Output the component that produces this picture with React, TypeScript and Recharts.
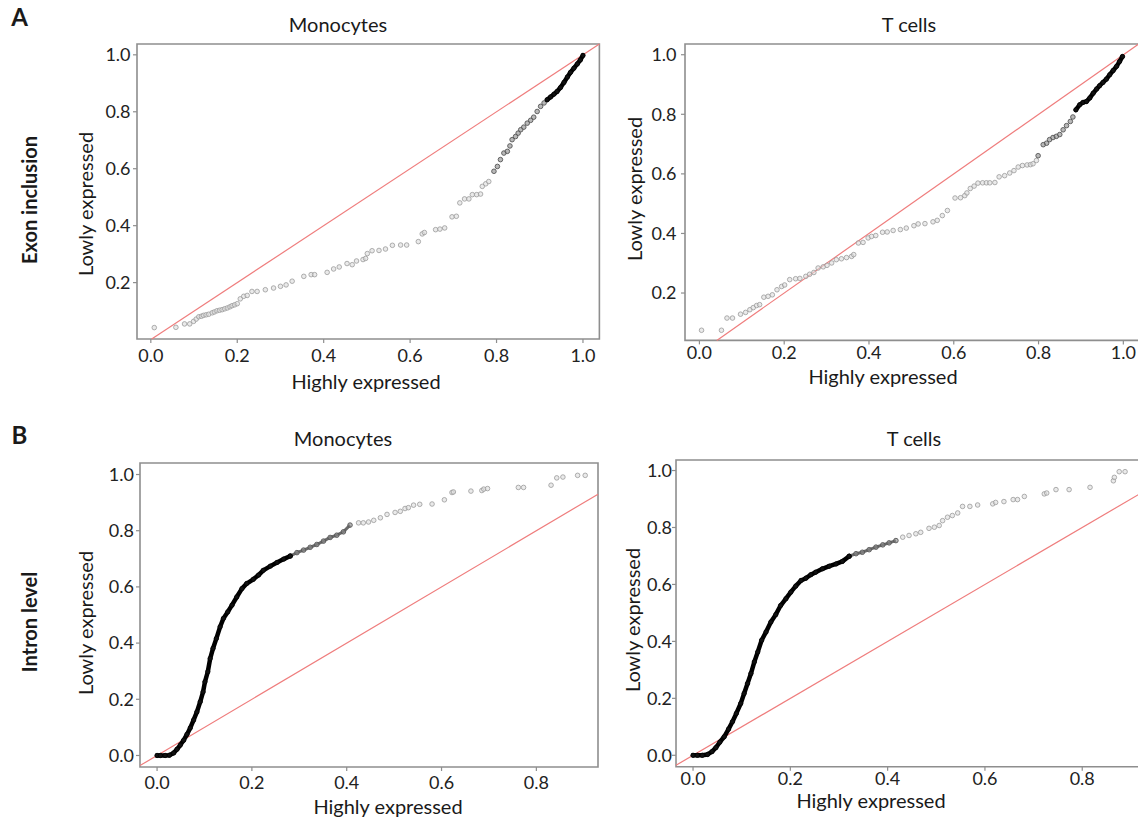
import React from 'react';
import {
  ScatterChart,
  Scatter,
  XAxis,
  YAxis,
  ReferenceLine,
  ReferenceArea,
} from 'recharts';

type Pt = [number, number];

const FONT = 'Lato, "Open Sans", "DejaVu Sans", sans-serif';
const FRAME = '#8e8e8e';
const DIAG = '#ef7d7d';

// ---------- Exon inclusion, Monocytes (highly vs lowly expressed quantiles) ----------
const monoExonSparse: Pt[] = [
  [0.008, 0.042], [0.058, 0.043], [0.078, 0.055], [0.09, 0.055], [0.099, 0.064],
  [0.105, 0.072], [0.111, 0.08], [0.117, 0.082], [0.122, 0.085], [0.128, 0.087],
  [0.134, 0.089], [0.142, 0.094], [0.147, 0.097], [0.153, 0.101], [0.159, 0.103],
  [0.165, 0.105], [0.171, 0.108], [0.177, 0.111], [0.183, 0.115], [0.188, 0.119],
  [0.194, 0.122], [0.2, 0.126], [0.207, 0.143], [0.215, 0.152], [0.223, 0.155],
  [0.234, 0.169], [0.246, 0.169], [0.265, 0.175], [0.284, 0.181], [0.3, 0.187],
  [0.313, 0.192], [0.327, 0.205], [0.354, 0.222], [0.371, 0.228], [0.379, 0.228],
  [0.408, 0.236], [0.423, 0.248], [0.436, 0.255], [0.454, 0.267], [0.466, 0.263],
  [0.476, 0.276], [0.491, 0.281], [0.497, 0.285], [0.501, 0.302], [0.512, 0.312],
  [0.528, 0.313], [0.543, 0.318], [0.559, 0.331], [0.578, 0.332], [0.592, 0.332],
  [0.619, 0.344], [0.628, 0.371], [0.633, 0.376], [0.659, 0.386], [0.669, 0.388],
  [0.68, 0.392], [0.697, 0.431], [0.707, 0.433], [0.715, 0.48], [0.726, 0.494],
  [0.736, 0.494], [0.744, 0.509], [0.754, 0.509], [0.763, 0.511], [0.767, 0.538],
  [0.775, 0.547], [0.782, 0.555],
];
const monoExonMid: Pt[] = [
  [0.794, 0.591], [0.802, 0.608], [0.809, 0.632], [0.817, 0.655], [0.825, 0.661],
  [0.831, 0.68], [0.836, 0.702], [0.844, 0.713], [0.85, 0.725], [0.856, 0.737],
  [0.863, 0.746], [0.871, 0.76], [0.879, 0.77], [0.886, 0.781], [0.894, 0.801],
  [0.902, 0.819], [0.91, 0.831],
];
const monoExonDense: Pt[] = [
  [0.917, 0.842], [0.925, 0.852], [0.933, 0.862], [0.94, 0.871], [0.948, 0.885],
  [0.956, 0.903], [0.964, 0.922], [0.971, 0.938], [0.979, 0.953], [0.987, 0.968],
  [0.994, 0.982], [1.0, 0.998],
];

// ---------- Exon inclusion, T cells ----------
const tcellExonSparse: Pt[] = [
  [0.005, 0.075], [0.052, 0.075], [0.065, 0.116], [0.078, 0.116], [0.097, 0.129],
  [0.109, 0.135], [0.119, 0.144], [0.127, 0.151], [0.135, 0.158], [0.142, 0.161],
  [0.152, 0.186], [0.162, 0.189], [0.172, 0.194], [0.183, 0.211], [0.194, 0.222],
  [0.201, 0.227], [0.213, 0.245], [0.227, 0.248], [0.237, 0.249], [0.251, 0.256],
  [0.26, 0.263], [0.27, 0.269], [0.28, 0.284], [0.292, 0.288], [0.301, 0.293],
  [0.312, 0.301], [0.323, 0.312], [0.335, 0.315], [0.347, 0.319], [0.359, 0.323],
  [0.364, 0.329], [0.375, 0.368], [0.386, 0.37], [0.398, 0.385], [0.406, 0.39],
  [0.416, 0.393], [0.432, 0.404], [0.443, 0.405], [0.457, 0.41], [0.474, 0.413],
  [0.488, 0.418], [0.506, 0.426], [0.516, 0.432], [0.532, 0.433], [0.551, 0.439],
  [0.561, 0.444], [0.573, 0.46], [0.585, 0.477], [0.603, 0.519], [0.616, 0.52],
  [0.626, 0.527], [0.631, 0.536], [0.639, 0.551], [0.648, 0.559], [0.657, 0.569],
  [0.668, 0.57], [0.677, 0.57], [0.685, 0.57], [0.697, 0.571], [0.707, 0.59],
  [0.72, 0.594], [0.732, 0.603], [0.742, 0.611], [0.752, 0.623], [0.762, 0.628],
  [0.773, 0.63], [0.781, 0.631], [0.787, 0.634], [0.795, 0.645],
];
const tcellExonMid: Pt[] = [
  [0.799, 0.661], [0.811, 0.698], [0.819, 0.703], [0.826, 0.715], [0.834, 0.722],
  [0.842, 0.726], [0.85, 0.732], [0.858, 0.748], [0.866, 0.762], [0.875, 0.776],
  [0.881, 0.791],
];
const tcellExonDense: Pt[] = [
  [0.888, 0.815], [0.897, 0.832], [0.905, 0.84], [0.913, 0.843], [0.921, 0.855],
  [0.929, 0.871], [0.937, 0.885], [0.944, 0.896], [0.952, 0.907], [0.96, 0.918],
  [0.968, 0.933], [0.976, 0.947], [0.984, 0.961], [0.991, 0.977], [0.998, 0.994],
];

// ---------- Intron level, Monocytes ----------
const monoIntronDense: Pt[] = [
  [0.0, 0.0], [0.007, 0.0], [0.017, 0.0], [0.026, 0.001], [0.035, 0.009],
  [0.042, 0.022], [0.049, 0.037], [0.056, 0.054], [0.063, 0.075], [0.07, 0.098],
  [0.077, 0.126], [0.084, 0.155], [0.091, 0.191], [0.097, 0.226], [0.101, 0.262],
  [0.107, 0.298], [0.112, 0.345], [0.118, 0.381], [0.125, 0.416], [0.133, 0.458],
  [0.14, 0.488], [0.149, 0.511], [0.158, 0.535], [0.168, 0.564], [0.179, 0.594],
  [0.189, 0.612], [0.203, 0.627], [0.214, 0.642], [0.224, 0.659], [0.239, 0.674],
  [0.253, 0.687], [0.267, 0.699], [0.281, 0.71],
];
const monoIntronMid: Pt[] = [
  [0.281, 0.71], [0.295, 0.722], [0.309, 0.731], [0.323, 0.741], [0.337, 0.751],
  [0.351, 0.763], [0.365, 0.776], [0.379, 0.784], [0.393, 0.796], [0.407, 0.82],
];
const monoIntronSparse: Pt[] = [
  [0.425, 0.828], [0.435, 0.828], [0.446, 0.831], [0.457, 0.837], [0.471, 0.846],
  [0.485, 0.858], [0.502, 0.865], [0.513, 0.869], [0.523, 0.879], [0.53, 0.882],
  [0.541, 0.891], [0.554, 0.894], [0.58, 0.895], [0.606, 0.91], [0.622, 0.936],
  [0.625, 0.938], [0.662, 0.941], [0.685, 0.943], [0.689, 0.948], [0.697, 0.95],
  [0.762, 0.954], [0.773, 0.954], [0.831, 0.962], [0.843, 0.988], [0.856, 0.991],
  [0.887, 0.997], [0.903, 0.997],
];

// ---------- Intron level, T cells ----------
const tcellIntronDense: Pt[] = [
  [0.0, 0.0], [0.009, 0.0], [0.019, 0.0], [0.03, 0.003], [0.039, 0.013],
  [0.047, 0.027], [0.055, 0.046], [0.064, 0.065], [0.073, 0.092], [0.081, 0.118],
  [0.089, 0.147], [0.098, 0.182], [0.105, 0.217], [0.112, 0.252], [0.119, 0.287],
  [0.126, 0.328], [0.133, 0.363], [0.141, 0.404], [0.15, 0.433], [0.16, 0.468],
  [0.17, 0.494], [0.18, 0.526], [0.191, 0.55], [0.201, 0.573], [0.211, 0.594],
  [0.222, 0.614], [0.232, 0.622], [0.242, 0.634], [0.252, 0.643], [0.266, 0.655],
  [0.28, 0.664], [0.294, 0.672], [0.307, 0.681], [0.321, 0.699],
];
const tcellIntronMid: Pt[] = [
  [0.321, 0.699], [0.335, 0.708], [0.348, 0.713], [0.362, 0.722], [0.376, 0.731],
  [0.39, 0.739], [0.403, 0.746], [0.417, 0.754],
];
const tcellIntronSparse: Pt[] = [
  [0.431, 0.766], [0.444, 0.772], [0.458, 0.778], [0.468, 0.783], [0.485, 0.797],
  [0.496, 0.801], [0.506, 0.807], [0.513, 0.824], [0.523, 0.836], [0.533, 0.842],
  [0.544, 0.851], [0.554, 0.874], [0.569, 0.874], [0.585, 0.879], [0.616, 0.883],
  [0.622, 0.888], [0.639, 0.891], [0.658, 0.898], [0.667, 0.898], [0.681, 0.909],
  [0.722, 0.918], [0.727, 0.921], [0.746, 0.933], [0.773, 0.933], [0.816, 0.941],
  [0.864, 0.964], [0.866, 0.976], [0.876, 0.996], [0.888, 0.996],
];

// ---------- axis ticks ----------
const exonXTicks = [0, 0.2, 0.4, 0.6, 0.8, 1.0];
const exonYTicks = [0.2, 0.4, 0.6, 0.8, 1.0];
const intronXTicks = [0, 0.2, 0.4, 0.6, 0.8];
const intronYTicks = [0, 0.2, 0.4, 0.6, 0.8, 1.0];

const toXY = (pts: Pt[]) => pts.map(([x, y]) => ({ x, y }));
const fmt = (v: number) => v.toFixed(1);

interface PanelSpec {
  left: number;
  top: number;
  plotW: number;
  plotH: number;
  xDomain: [number, number];
  yDomain: [number, number];
  xTicks: number[];
  yTicks: number[];
  xTickMargin: number;
  yTickMargin: number;
  sparse: Pt[];
  mid: Pt[];
  dense: Pt[];
  midLine: boolean;
}

const Y_W = 60;
const X_H = 45;
const PAD = 6;

const sparseDot = (p: any) => (
  <circle cx={p.cx} cy={p.cy} r={2.3} fill="#dcdcdc" fillOpacity={0.6} stroke="#9a9a9a" strokeWidth={0.8} />
);
const midDot = (p: any) => (
  <circle cx={p.cx} cy={p.cy} r={2.3} fill="#8a8a8a" fillOpacity={0.6} stroke="#555" strokeWidth={0.9} />
);
const denseDot = (p: any) => (
  <circle cx={p.cx} cy={p.cy} r={2.2} fill="#111" stroke="#000" strokeWidth={0.8} />
);

function Panel({ spec }: { spec: PanelSpec }) {
  const w = Y_W + spec.plotW + PAD;
  const h = PAD + spec.plotH + X_H;
  const lo = Math.max(spec.xDomain[0], spec.yDomain[0]);
  const hi = Math.min(spec.xDomain[1], spec.yDomain[1]);
  const tickStyle = { fontSize: 18, fill: '#222', fontFamily: FONT };
  return (
    <div style={{ position: 'absolute', left: spec.left - Y_W, top: spec.top - PAD, width: w, height: h }}>
      <ScatterChart width={w} height={h} margin={{ top: PAD, right: PAD, bottom: 0, left: 0 }}>
        <XAxis
          type="number"
          dataKey="x"
          domain={spec.xDomain}
          ticks={spec.xTicks}
          interval={0}
          allowDataOverflow
          height={X_H}
          axisLine={false}
          tickLine={{ stroke: FRAME, strokeWidth: 1.2 }}
          tickSize={4}
          tickMargin={spec.xTickMargin}
          tick={tickStyle}
          tickFormatter={fmt}
        />
        <YAxis
          type="number"
          dataKey="y"
          domain={spec.yDomain}
          ticks={spec.yTicks}
          interval={0}
          allowDataOverflow
          width={Y_W}
          axisLine={false}
          tickLine={{ stroke: FRAME, strokeWidth: 1.2 }}
          tickSize={4}
          tickMargin={spec.yTickMargin}
          tick={tickStyle}
          tickFormatter={fmt}
        />
        <ReferenceArea
          x1={spec.xDomain[0]}
          x2={spec.xDomain[1]}
          y1={spec.yDomain[0]}
          y2={spec.yDomain[1]}
          fill="none"
          stroke={FRAME}
          strokeWidth={1.6}
          ifOverflow="visible"
        />
        <Scatter data={toXY(spec.sparse)} shape={sparseDot} isAnimationActive={false} />
        <Scatter
          data={toXY(spec.mid)}
          shape={midDot}
          line={spec.midLine ? { stroke: '#6a6a6a', strokeWidth: 3 } : false}
          isAnimationActive={false}
        />
        <Scatter
          data={toXY(spec.dense)}
          shape={denseDot}
          line={{ stroke: '#000', strokeWidth: 4.5, strokeLinejoin: 'round', strokeLinecap: 'round' }}
          isAnimationActive={false}
        />
        <ReferenceLine
          segment={[{ x: lo, y: lo }, { x: hi, y: hi }]}
          stroke={DIAG}
          strokeWidth={1.2}
          ifOverflow="visible"
        />
      </ScatterChart>
    </div>
  );
}

const panels: PanelSpec[] = [
  {
    left: 136.6, top: 44.3, plotW: 462.4, plotH: 295,
    xDomain: [-0.032, 1.038], yDomain: [0.002, 1.038],
    xTicks: exonXTicks, yTicks: exonYTicks, xTickMargin: 6, yTickMargin: 2.5,
    sparse: monoExonSparse, mid: monoExonMid, dense: monoExonDense, midLine: false,
  },
  {
    left: 685.3, top: 44.3, plotW: 455.3, plotH: 296.4,
    xDomain: [-0.034, 1.04], yDomain: [0.041, 1.036],
    xTicks: exonXTicks, yTicks: exonYTicks, xTickMargin: 2, yTickMargin: 4.5,
    sparse: tcellExonSparse, mid: tcellExonMid, dense: tcellExonDense, midLine: false,
  },
  {
    left: 139.7, top: 462.7, plotW: 458, plotH: 304,
    xDomain: [-0.036, 0.93], yDomain: [-0.041, 1.041],
    xTicks: intronXTicks, yTicks: intronYTicks, xTickMargin: 5, yTickMargin: 2,
    sparse: monoIntronSparse, mid: monoIntronMid, dense: monoIntronDense, midLine: true,
  },
  {
    left: 676.1, top: 460, plotW: 469.5, plotH: 306.7,
    xDomain: [-0.035, 0.93], yDomain: [-0.04, 1.037],
    xTicks: intronXTicks, yTicks: intronYTicks, xTickMargin: 2, yTickMargin: 0,
    sparse: tcellIntronSparse, mid: tcellIntronMid, dense: tcellIntronDense, midLine: true,
  },
];

const panelTitles = ['Monocytes', 'T cells', 'Monocytes', 'T cells'];
const rowLabels = ['Exon inclusion', 'Intron level'];
const rowLetters = ['A', 'B'];
const xAxisTitle = 'Highly expressed';
const yAxisTitle = 'Lowly expressed';

function Txt({
  x, y, text, size = 20, bold = false, rotate = false,
}: { x: number; y: number; text: string; size?: number; bold?: boolean; rotate?: boolean }) {
  return (
    <div
      style={{
        position: 'absolute',
        left: x,
        top: y,
        transform: `translate(-50%, -50%)${rotate ? ' rotate(-90deg)' : ''}`,
        fontFamily: FONT,
        fontSize: size,
        fontWeight: bold ? 700 : 400,
        lineHeight: 1,
        whiteSpace: 'nowrap',
        color: '#1a1a1a',
      }}
    >
      {text}
    </div>
  );
}

export default function App() {
  return (
    <div
      style={{
        position: 'absolute',
        left: 0,
        top: 0,
        width: 1138,
        height: 820,
        overflow: 'hidden',
        background: '#fff',
      }}
    >
      {panels.map((p, i) => (
        <Panel key={i} spec={p} />
      ))}

      <Txt x={19.5} y={17} text={rowLetters[0]} size={24} bold />
      <Txt x={19.5} y={435} text={rowLetters[1]} size={24} bold />
      <Txt x={28.7} y={200} text={rowLabels[0]} bold rotate />
      <Txt x={28.7} y={622} text={rowLabels[1]} bold rotate />

      <Txt x={338} y={23.5} text={panelTitles[0]} />
      <Txt x={909} y={23.5} text={panelTitles[1]} />
      <Txt x={343} y={438} text={panelTitles[2]} />
      <Txt x={914} y={438} text={panelTitles[3]} />

      <Txt x={366} y={380.5} text={xAxisTitle} />
      <Txt x={883} y={376} text={xAxisTitle} />
      <Txt x={388} y={805.5} text={xAxisTitle} />
      <Txt x={871} y={800} text={xAxisTitle} />

      <Txt x={84.5} y={204} text={yAxisTitle} rotate />
      <Txt x={634} y={189} text={yAxisTitle} rotate />
      <Txt x={84.5} y={622.5} text={yAxisTitle} rotate />
      <Txt x={632} y={620} text={yAxisTitle} rotate />
    </div>
  );
}
